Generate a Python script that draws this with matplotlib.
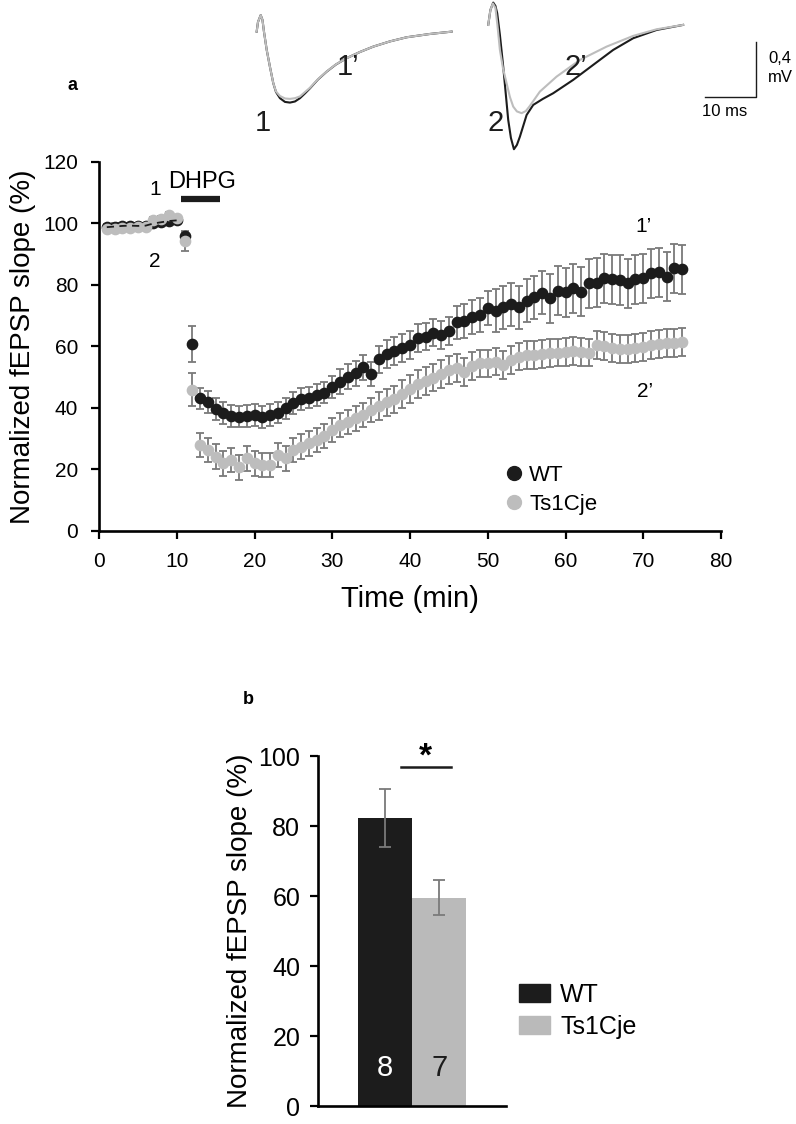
from __future__ import annotations

import matplotlib

matplotlib.use("Agg")
import matplotlib.pyplot as plt
from matplotlib.lines import Line2D
from matplotlib.patches import Patch

plt.rcParams["font.family"] = ["Liberation Sans", "DejaVu Sans"]

BLACK = "#1c1c1c"
GREY = "#bdbdbd"
ERR = "#7a7a7a"
OUT_PATH = "out.png"

# panel a, time course (one point per minute)
TIME_MIN = list(range(1, 76))
WT_SLOPE = [
    98.8, 99.0, 99.2, 99.3, 99.2, 99.3, 100.0, 100.4, 100.8, 101.0,
    96.0, 60.8,
    43.1, 42.0, 39.7, 38.3, 37.4, 37.2, 37.4, 37.7, 37.0, 37.7, 38.5, 39.9,
    41.7, 42.9, 43.4, 44.2, 45.0, 46.9, 48.6, 50.2, 51.3, 53.2, 51.0,
    55.8, 57.5, 58.5, 59.4, 60.5, 62.7, 63.2, 64.5, 63.7, 65.1, 67.8, 68.3,
    69.5, 70.2, 72.4, 71.6, 72.7, 73.7, 72.7, 74.8, 76.0, 77.5,
    75.7, 78.2, 77.6, 78.9, 77.8, 80.5, 80.8, 82.2, 81.8, 81.6, 80.5, 81.9,
    82.2, 83.8, 84.1, 82.7, 85.4, 85.1,
]
WT_SEM = [1.0] * 10 + [1.5, 6.0] + [3.5] * 18 + [4.0] * 5 + [4.5] * 10 + [5.5] * 5 + [7.0] * 7 + [8.0] * 18
TS_SLOPE = [
    98.3, 98.3, 98.6, 98.5, 98.8, 99.0, 101.0, 101.5, 102.8, 101.8,
    94.2, 46.0,
    28.0, 26.3, 24.2, 22.0, 23.1, 20.7, 23.6, 22.0, 21.5, 21.5, 24.7, 23.6,
    26.3, 27.4, 28.5, 29.6, 30.9, 32.8, 34.5, 35.5, 36.6, 37.7, 39.3,
    40.6, 41.8, 42.8, 44.5, 46.2, 47.7, 48.8, 49.9, 51.0, 52.4,
    52.9, 51.8, 53.7, 54.5, 54.5, 55.1, 54.0, 55.6, 56.7, 57.2,
    57.2, 57.6, 57.8, 58.0, 58.3, 58.6, 58.3, 58.0, 60.5, 60.2,
    59.4, 59.1, 59.1, 59.4, 59.9, 60.5, 60.9, 61.2, 61.2, 61.5,
]
TS_SEM = [1.0] * 10 + [3.0, 5.5] + [4.0] * 23 + [4.5] * 40
DHPG_START, DHPG_END = 10.5, 15.5

# example fEPSP traces (ms, mV)
T1_MS = [0.27, 0.53, 1.06, 1.41, 1.71, 2.24, 2.88, 3.53, 4.06, 4.84, 5.82, 6.80, 7.78,
         8.76, 9.75, 10.73, 12.29, 14.0, 15.82, 17.92, 20.53, 23.14, 26.41, 29.69, 34.25, 38.51]
T1_WT = [0.0, 0.07, 0.12, 0.085, -0.002, -0.133, -0.257, -0.375, -0.439, -0.484, -0.511, -0.516, -0.508,
         -0.484, -0.449, -0.412, -0.348, -0.291, -0.239, -0.193, -0.148, -0.109, -0.071, -0.041, -0.017, 0.0]
T1_TS = [0.0, 0.07, 0.12, 0.085, -0.002, -0.133, -0.257, -0.375, -0.435, -0.468, -0.486, -0.489, -0.484,
         -0.471, -0.439, -0.408, -0.346, -0.290, -0.238, -0.193, -0.148, -0.109, -0.071, -0.041, -0.017, 0.0]
T2_WT_MS = [45.69, 46.12, 46.67, 47.1, 47.45, 47.98, 48.63, 49.61, 50.14, 50.73, 51.31, 51.90,
            53.22, 54.51, 56.41, 58.43, 62.35, 66.27, 70.20, 74.12, 78.71, 83.92]
T2_WT = [0.049, 0.158, 0.211, 0.187, 0.134, -0.024, -0.255, -0.642, -0.773, -0.855, -0.824, -0.764,
         -0.606, -0.533, -0.489, -0.448, -0.351, -0.242, -0.133, -0.048, 0.012, 0.049]
T2_TS_MS = [45.69, 46.12, 46.61, 47.1, 47.49, 47.98, 48.57, 49.29, 49.94, 50.59, 51.31, 52.24,
            53.08, 53.86, 55.82, 59.1, 63.67, 68.9, 74.12, 78.71, 83.92]
T2_TS = [0.049, 0.158, 0.205, 0.172, 0.049, -0.133, -0.264, -0.375, -0.475, -0.545, -0.580, -0.593,
         -0.577, -0.540, -0.436, -0.327, -0.206, -0.109, -0.031, 0.017, 0.049]

# panel b, mean of last minutes
GROUPS = ["WT", "Ts1Cje"]
BAR_MEAN = [82.3, 59.5]
BAR_SEM = [8.4, 5.0]
BAR_N = ["8", "7"]


def style_axis(ax, labelsize: float, pad: float) -> None:
    ax.tick_params(labelsize=labelsize, width=1.6, length=6, pad=pad)
    for side in ("top", "right"):
        ax.spines[side].set_visible(False)
    for side in ("left", "bottom"):
        ax.spines[side].set_linewidth(1.9)


def draw_traces(fig) -> None:
    ax = fig.add_axes([0.3015, 0.8577, 0.6533, 0.1423])
    ax.set_xlim(-3, 99)
    ax.set_ylim(-0.933, 0.23)
    ax.axis("off")
    ax.plot(T1_MS, T1_WT, color=BLACK, lw=1.5)
    ax.plot(T1_MS, T1_TS, color=GREY, lw=1.5)
    ax.plot(T2_WT_MS, T2_WT, color=BLACK, lw=1.5)
    ax.plot(T2_TS_MS, T2_TS, color=GREY, lw=1.5)
    for label, x, y in [("1", 1.5, -0.664), ("1\u2019", 18.2, -0.257), ("2", 47.2, -0.664), ("2\u2019", 62.9, -0.257)]:
        ax.text(x, y, label, fontsize=21, ha="center", va="center", color=BLACK)
    ax.plot([88.2, 98.2, 98.2], [-0.475, -0.475, -0.075], color=BLACK, lw=1.0, clip_on=False)
    ax.text(92.0, -0.58, "10 ms", fontsize=12, ha="center", va="center")
    ax.text(100.6, -0.265, "0,4\nmV", fontsize=12, ha="left", va="center", linespacing=1.3)


def draw_time_course(fig) -> None:
    ax = fig.add_axes([0.1244, 0.5276, 0.7814, 0.3283])
    ax.errorbar(TIME_MIN, WT_SLOPE, yerr=WT_SEM, fmt="none", ecolor=ERR, elinewidth=1.3, capsize=3.2, capthick=1.3)
    ax.plot(TIME_MIN, WT_SLOPE, "o", color=BLACK, ms=7.4, mec=BLACK, zorder=3)
    ax.errorbar(TIME_MIN, TS_SLOPE, yerr=TS_SEM, fmt="none", ecolor=ERR, elinewidth=1.3, capsize=3.2, capthick=1.3)
    ax.plot(TIME_MIN, TS_SLOPE, "o", color=GREY, ms=7.4, mec=GREY, zorder=4)
    ax.plot(TIME_MIN[:10], WT_SLOPE[:10], color=BLACK, lw=1.3, ls=(0, (4, 3)), zorder=5)

    ax.plot([DHPG_START, DHPG_END], [108.1, 108.1], color=BLACK, lw=4.5, solid_capstyle="butt")
    ax.text(13.3, 113.5, "DHPG", fontsize=17, ha="center", va="center")
    ax.text(7.2, 111, "1", fontsize=15, ha="center", va="center")
    ax.text(7.2, 87.5, "2", fontsize=15, ha="center", va="center")
    ax.text(70.0, 99, "1\u2019", fontsize=15, ha="center", va="center")
    ax.text(70.2, 45.3, "2\u2019", fontsize=15, ha="center", va="center")

    ax.set_xlim(0, 80)
    ax.set_ylim(0, 120)
    ax.set_xticks(range(0, 81, 10))
    ax.set_yticks(range(0, 121, 20))
    style_axis(ax, 15, 9)
    ax.set_xlabel("Time (min)", fontsize=21, labelpad=10)
    ax.set_ylabel("Normalized fEPSP slope (%)", fontsize=20, labelpad=5)

    handles = [
        Line2D([], [], ls="none", marker="o", color=BLACK, ms=10, label="WT"),
        Line2D([], [], ls="none", marker="o", color=GREY, ms=10, label="Ts1Cje"),
    ]
    ax.legend(handles=handles, loc="center left", bbox_to_anchor=(0.615, 0.112), frameon=False,
              fontsize=16, handletextpad=0.15, labelspacing=0.35, handlelength=1.1)


def draw_bars(fig) -> None:
    ax = fig.add_axes([0.400, 0.0160, 0.2357, 0.3114])
    x = range(len(GROUPS))
    ax.bar(x, BAR_MEAN, width=1.0, color=[BLACK, "#bababa"], yerr=BAR_SEM, ecolor=ERR,
           error_kw={"elinewidth": 1.3, "capsize": 4, "capthick": 1.3})
    ax.text(0, 11.0, BAR_N[0], color="white", fontsize=21, ha="center", va="center")
    ax.text(1, 11.0, BAR_N[1], color=BLACK, fontsize=21, ha="center", va="center")
    ax.plot([0.29, 1.21], [96.8, 96.8], color=BLACK, lw=1.8, clip_on=False)
    ax.text(0.75, 99.8, "*", fontsize=24, fontweight="bold", ha="center", va="center")

    ax.set_xlim(-1.24, 2.235)
    ax.set_ylim(0, 100)
    ax.set_xticks([])
    ax.set_yticks(range(0, 101, 20))
    style_axis(ax, 18, 7)
    ax.set_ylabel("Normalized fEPSP slope (%)", fontsize=20, labelpad=4)

    handles = [Patch(color=BLACK, label=GROUPS[0]), Patch(color="#bababa", label=GROUPS[1])]
    ax.legend(handles=handles, loc="center left", bbox_to_anchor=(0.95, 0.272), frameon=False,
              fontsize=18, handlelength=1.25, handleheight=0.75, handletextpad=0.4, labelspacing=0.3)


def main() -> None:
    fig = plt.figure(figsize=(7.96, 11.24), dpi=100)
    draw_traces(fig)
    draw_time_course(fig)
    draw_bars(fig)
    fig.text(73 / 796, 1 - 85 / 1124, "a", fontsize=13, fontweight="bold", ha="center", va="center")
    fig.text(248 / 796, 1 - 700 / 1124, "b", fontsize=13, fontweight="bold", ha="center", va="center")
    fig.savefig(OUT_PATH, dpi=100)
    plt.close(fig)


if __name__ == "__main__":
    main()
